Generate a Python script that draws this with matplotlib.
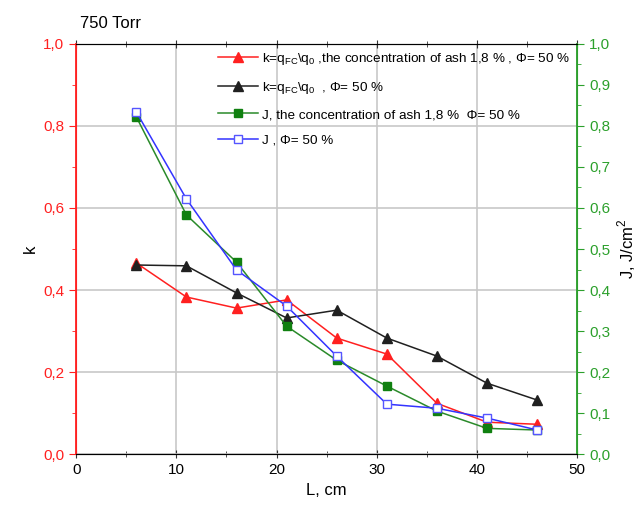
import matplotlib
matplotlib.use("Agg")
import matplotlib.pyplot as plt
from matplotlib.ticker import MultipleLocator, FuncFormatter

plt.rcParams['font.family'] = ['Liberation Sans', 'DejaVu Sans']
plt.rcParams['mathtext.fontset'] = 'custom'
plt.rcParams['mathtext.rm'] = 'Liberation Sans'

L = [6, 11, 16, 21, 26, 31, 36, 41, 46]
k_ash = [0.466, 0.383, 0.356, 0.376, 0.283, 0.244, 0.124, 0.078, 0.073]
k_noash = [0.461, 0.459, 0.393, 0.332, 0.351, 0.283, 0.239, 0.173, 0.132]
J_ash = [0.822, 0.583, 0.468, 0.312, 0.229, 0.166, 0.105, 0.063, 0.059]
J_noash = [0.834, 0.622, 0.449, 0.361, 0.239, 0.122, 0.112, 0.088, 0.059]

labels = [
    r"k=q$_{\mathrm{FC}}$\q$_{\mathrm{0}}$ ,the concentration of ash 1,8 % , Φ= 50 %",
    r"k=q$_{\mathrm{FC}}$\q$_{\mathrm{0}}$  , Φ= 50 %",
    "J, the concentration of ash 1,8 %  Φ= 50 %",
    "J , Φ= 50 %",
]

RED = '#ff2020'
GREEN = '#2ca02c'

fig = plt.figure(figsize=(6.4, 5.15), dpi=100)
ax = fig.add_axes([0.119, 0.118, 0.783, 0.797])
ax2 = ax.twinx()

comma = FuncFormatter(lambda v, p: f"{v:.1f}".replace('.', ','))

l1, = ax.plot(L, k_ash, color='#ff2020', marker='^', ms=7, lw=1.1, label=labels[0])
l2, = ax.plot(L, k_noash, color='#202020', marker='^', ms=7, lw=1.1, label=labels[1])
l3, = ax2.plot(L, J_ash, color='#2a8a2a', marker='s', ms=6, lw=1.1,
               markerfacecolor='#108010', markeredgecolor='#108010', label=labels[2])
l4, = ax2.plot(L, J_noash, color='#3333ff', marker='s', ms=6, lw=1.1,
               markerfacecolor='white', markeredgecolor='#5555ff', label=labels[3])

ax.set_xlim(0, 50)
ax.set_ylim(0, 1.0)
ax2.set_ylim(0, 1.0)

ax.xaxis.set_major_locator(MultipleLocator(10))
ax.xaxis.set_minor_locator(MultipleLocator(5))
ax.yaxis.set_major_locator(MultipleLocator(0.2))
ax.yaxis.set_minor_locator(MultipleLocator(0.1))
ax2.yaxis.set_major_locator(MultipleLocator(0.1))
ax2.yaxis.set_minor_locator(MultipleLocator(0.05))
ax.yaxis.set_major_formatter(comma)
ax2.yaxis.set_major_formatter(comma)

ax.grid(True, which='major', color='#c8c8c8', lw=1.2)
ax.set_axisbelow(True)

ax.tick_params(axis='x', which='both', direction='inout', top=True, labelsize=11, colors='#333333', labelcolor='black')
ax.tick_params(axis='x', which='major', length=6)
ax.tick_params(axis='x', which='minor', length=4)
ax.tick_params(axis='y', which='both', colors=RED, labelcolor=RED, labelsize=11)
ax.tick_params(axis='y', which='major', length=5)
ax.tick_params(axis='y', which='minor', length=3)
ax2.tick_params(axis='y', which='both', colors=GREEN, labelcolor=GREEN, labelsize=11)
ax2.tick_params(axis='y', which='major', length=5)
ax2.tick_params(axis='y', which='minor', length=3)

ax.spines['left'].set_color(RED)
ax2.spines['left'].set_color(RED)
ax2.spines['right'].set_color(GREEN)
ax.spines['right'].set_color(GREEN)
for s in ['left', 'right']:
    ax2.spines[s].set_linewidth(1.3)
ax.spines['top'].set_color('#333333')
ax.spines['bottom'].set_color('#333333')

ax.set_xlabel("L, cm", fontsize=12)
ax.set_ylabel("k", fontsize=12)
ax2.set_ylabel("J, J/cm$^2$", fontsize=12)

fig.text(0.125, 0.955, "750 Torr", fontsize=12, ha='left', va='center')

leg = ax2.legend(handles=[l1, l2, l3, l4], loc='upper right',
                 bbox_to_anchor=(1.005, 1.005), frameon=False, fontsize=9.7,
                 handlelength=3.0, handletextpad=0.3, labelspacing=0.95,
                 borderaxespad=0.3)

fig.savefig("out.png", dpi=100)
